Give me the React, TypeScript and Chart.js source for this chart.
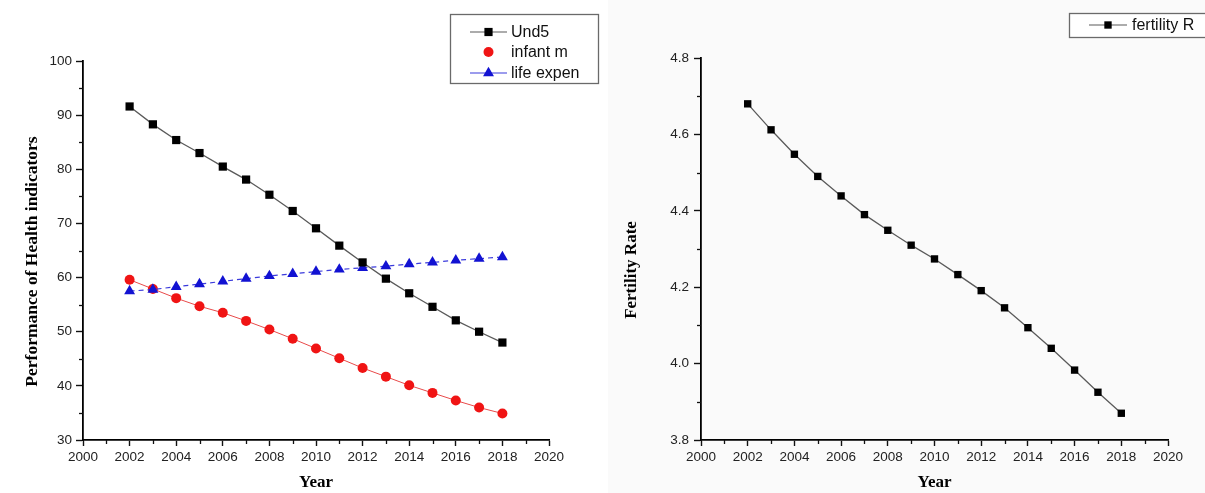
import React, { useEffect, useRef } from 'react';
import { Chart, registerables } from 'chart.js';

Chart.register(...registerables);

// ---------- data ----------
const years = [2002, 2003, 2004, 2005, 2006, 2007, 2008, 2009, 2010, 2011, 2012, 2013, 2014, 2015, 2016, 2017, 2018];
const und5 = [91.6, 88.3, 85.4, 83.0, 80.5, 78.1, 75.3, 72.3, 69.1, 65.9, 62.8, 59.8, 57.1, 54.6, 52.1, 50.0, 48.0];
const infantM = [59.6, 57.9, 56.2, 54.7, 53.5, 52.0, 50.4, 48.7, 46.9, 45.1, 43.3, 41.7, 40.1, 38.7, 37.3, 36.0, 34.9];
const lifeExpen = [57.5, 57.8, 58.3, 58.8, 59.3, 59.8, 60.3, 60.7, 61.1, 61.5, 61.8, 62.1, 62.5, 62.8, 63.2, 63.5, 63.8];
const fertilityR = [4.68, 4.612, 4.548, 4.49, 4.439, 4.39, 4.349, 4.31, 4.274, 4.233, 4.191, 4.146, 4.094, 4.04, 3.983, 3.925, 3.87];

const leftSeriesNames = ['Und5', 'infant m', 'life expen'];
const rightSeriesNames = ['fertility R'];
const leftYTitle = 'Performance of Health indicators';
const rightYTitle = 'Fertility Rate';
const xTitle = 'Year';

const xMin = 2000, xMax = 2020, xStep = 2;
const leftYMin = 30, leftYMax = 100, leftYStep = 10;
const rightYMin = 3.8, rightYMax = 4.8, rightYStep = 0.2;
const minorX = [2001, 2003, 2005, 2007, 2009, 2011, 2013, 2015, 2017, 2019];
const leftMinorY = [35, 45, 55, 65, 75, 85, 95];
const rightMinorY = [3.9, 4.1, 4.3, 4.5, 4.7];

const pts = (vals: number[]) => years.map((x, i) => ({ x, y: vals[i] }));

const SERIF = '"Liberation Serif", "Times New Roman", serif';
const SANS = '"Liberation Sans", Arial, sans-serif';

// ---------- helpers ----------
function drawMarker(ctx: CanvasRenderingContext2D, style: string, x: number, y: number, r: number, color: string) {
  ctx.save();
  ctx.fillStyle = color;
  ctx.beginPath();
  if (style === 'rect') {
    const s = Math.SQRT1_2 * r;
    ctx.rect(x - s, y - s, 2 * s, 2 * s);
  } else if (style === 'triangle') {
    ctx.moveTo(x, y - r);
    ctx.lineTo(x + r * 0.866, y + r * 0.5);
    ctx.lineTo(x - r * 0.866, y + r * 0.5);
    ctx.closePath();
  } else {
    ctx.arc(x, y, r, 0, Math.PI * 2);
  }
  ctx.fill();
  ctx.restore();
}

const minorTicksPlugin = {
  id: 'minorTicks',
  afterDraw(chart: any, _args: any, opts: any) {
    const ctx = chart.ctx as CanvasRenderingContext2D;
    const xs = chart.scales.x, ys = chart.scales.y;
    ctx.save();
    ctx.strokeStyle = '#111';
    ctx.lineWidth = 1.3;
    for (const v of opts.x || []) {
      const px = Math.round(xs.getPixelForValue(v)) + 0.5;
      ctx.beginPath();
      ctx.moveTo(px, xs.top);
      ctx.lineTo(px, xs.top + opts.len);
      ctx.stroke();
    }
    for (const v of opts.y || []) {
      const py = Math.round(ys.getPixelForValue(v)) + 0.5;
      ctx.beginPath();
      ctx.moveTo(ys.right, py);
      ctx.lineTo(ys.right - opts.len, py);
      ctx.stroke();
    }
    ctx.restore();
  },
};

// vertical axis title, drawn relative to the y scale
const yTitlePlugin = {
  id: 'yTitle',
  afterDraw(chart: any, _args: any, opts: any) {
    const ctx = chart.ctx as CanvasRenderingContext2D;
    const ys = chart.scales.y;
    const cy = (ys.top + ys.bottom) / 2 + opts.dy;
    ctx.save();
    ctx.translate(opts.x, cy);
    ctx.rotate(-Math.PI / 2);
    ctx.font = `bold ${opts.size}px ${SERIF}`;
    ctx.fillStyle = '#000';
    ctx.textAlign = 'center';
    ctx.textBaseline = 'middle';
    ctx.fillText(opts.text, 0, 0);
    ctx.restore();
  },
};

const originLegendPlugin = {
  id: 'originLegend',
  afterDraw(chart: any, _args: any, opts: any) {
    const ctx = chart.ctx as CanvasRenderingContext2D;
    const b = opts.box;
    ctx.save();
    ctx.fillStyle = '#ffffff';
    ctx.fillRect(b.x, b.y, b.w, b.h);
    ctx.strokeStyle = '#6a6a6a';
    ctx.lineWidth = 1.3;
    ctx.strokeRect(b.x + 0.5, b.y + 0.5, b.w, b.h);
    ctx.font = opts.font;
    ctx.textBaseline = 'middle';
    ctx.textAlign = 'left';
    chart.data.datasets.forEach((ds: any, i: number) => {
      const y = opts.rows[i];
      if (opts.showLine[i]) {
        ctx.save();
        ctx.strokeStyle = ds.borderColor;
        ctx.lineWidth = 1.2;
        ctx.beginPath();
        ctx.moveTo(opts.lineX0, y);
        ctx.lineTo(opts.lineX1, y);
        ctx.stroke();
        ctx.restore();
      }
      drawMarker(ctx, ds.pointStyle, (opts.lineX0 + opts.lineX1) / 2, y, ds.pointRadius, ds.pointBackgroundColor);
      ctx.fillStyle = '#111';
      ctx.fillText(ds.label, opts.textX, y + 1);
    });
    ctx.restore();
  },
};

function axisOptions(kind: 'x' | 'y', cfg: any) {
  return {
    type: 'linear',
    min: cfg.min,
    max: cfg.max,
    border: { display: true, color: '#000', width: 1.8 },
    grid: { drawOnChartArea: false, drawTicks: true, tickLength: cfg.tickLen, tickColor: '#111', tickWidth: 1.4 },
    ticks: {
      stepSize: cfg.step,
      padding: cfg.pad,
      color: '#222',
      font: { family: SANS, size: 13.5 },
      maxRotation: 0,
      autoSkip: false,
      callback: cfg.fmt,
    },
    title: {
      display: kind === 'x',
      text: cfg.title,
      color: '#000',
      font: { family: SERIF, size: cfg.titleSize, weight: 'bold' },
      padding: { top: 0, bottom: 0 },
    },
    afterFit: (scale: any) => {
      if (kind === 'x') scale.height = cfg.fit;
      else scale.width = cfg.fit;
    },
  };
}

const fmtYear = (v: any) => String(v);

function LeftChart() {
  const ref = useRef<HTMLCanvasElement>(null);
  useEffect(() => {
    const chart = new Chart(ref.current as HTMLCanvasElement, {
      type: 'line',
      data: {
        datasets: [
          {
            label: leftSeriesNames[0],
            data: pts(und5),
            borderColor: '#5a5a5a',
            borderWidth: 1.3,
            pointStyle: 'rect',
            pointRadius: 5.8,
            pointBackgroundColor: '#000',
            pointBorderColor: '#000',
            pointBorderWidth: 0,
            order: 0,
          },
          {
            label: leftSeriesNames[1],
            data: pts(infantM),
            borderColor: '#e84a4a',
            borderWidth: 1,
            pointStyle: 'circle',
            pointRadius: 5,
            pointBackgroundColor: '#f01414',
            pointBorderColor: '#f01414',
            pointBorderWidth: 0,
            order: 2,
          },
          {
            label: leftSeriesNames[2],
            data: pts(lifeExpen),
            borderColor: '#3b3bdc',
            borderWidth: 1.2,
            borderDash: [5, 4],
            pointStyle: 'triangle',
            pointRadius: 6.3,
            pointBackgroundColor: '#1212d2',
            pointBorderColor: '#1212d2',
            pointBorderWidth: 0,
            order: 1,
          },
        ],
      } as any,
      options: {
        animation: false,
        responsive: false,
        devicePixelRatio: 1,
        layout: { padding: { left: 0, right: 56, top: 61, bottom: 0 } },
        plugins: {
          legend: { display: false },
          tooltip: { enabled: false },
          minorTicks: { x: minorX, y: leftMinorY, len: 4 },
          yTitle: { text: leftYTitle, size: 17.5, x: 32, dy: 11 },
          originLegend: {
            box: { x: 450, y: 14, w: 148, h: 69 },
            rows: [32, 52, 73],
            showLine: [true, false, true],
            lineX0: 470,
            lineX1: 507,
            textX: 511,
            font: `16px ${SANS}`,
          },
        } as any,
        scales: {
          x: axisOptions('x', { min: xMin, max: xMax, step: xStep, tickLen: 6, pad: 3, fmt: fmtYear, title: xTitle, titleSize: 17, fit: 53 }),
          y: axisOptions('y', { min: leftYMin, max: leftYMax, step: leftYStep, tickLen: 7, pad: 4, fmt: (v: any) => String(v), title: leftYTitle, titleSize: 17, fit: 83 }),
        } as any,
      },
      plugins: [minorTicksPlugin, yTitlePlugin, originLegendPlugin],
    });
    return () => chart.destroy();
  }, []);
  return <canvas ref={ref} width={605} height={493} style={{ position: 'absolute', left: 0, top: 0, display: 'block' }} />;
}

function RightChart() {
  const ref = useRef<HTMLCanvasElement>(null);
  useEffect(() => {
    const chart = new Chart(ref.current as HTMLCanvasElement, {
      type: 'line',
      data: {
        datasets: [
          {
            label: rightSeriesNames[0],
            data: pts(fertilityR),
            borderColor: '#5a5a5a',
            borderWidth: 1.3,
            pointStyle: 'rect',
            pointRadius: 5.2,
            pointBackgroundColor: '#000',
            pointBorderColor: '#000',
            pointBorderWidth: 0,
          },
        ],
      } as any,
      options: {
        animation: false,
        responsive: false,
        devicePixelRatio: 1,
        layout: { padding: { left: 0, right: 37, top: 58, bottom: 0 } },
        plugins: {
          legend: { display: false },
          tooltip: { enabled: false },
          minorTicks: { x: minorX, y: rightMinorY, len: 4 },
          yTitle: { text: rightYTitle, size: 17, x: 27, dy: 21 },
          originLegend: {
            box: { x: 464, y: 13, w: 150, h: 24 },
            rows: [25],
            showLine: [true],
            lineX0: 484,
            lineX1: 522,
            textX: 527,
            font: `16px ${SANS}`,
          },
        } as any,
        scales: {
          x: axisOptions('x', { min: xMin, max: xMax, step: xStep, tickLen: 6, pad: 3, fmt: fmtYear, title: xTitle, titleSize: 17, fit: 53 }),
          y: axisOptions('y', { min: rightYMin, max: rightYMax, step: rightYStep, tickLen: 7, pad: 5, fmt: (v: any) => Number(v).toFixed(1), title: rightYTitle, titleSize: 17, fit: 96 }),
        } as any,
      },
      plugins: [minorTicksPlugin, yTitlePlugin, originLegendPlugin],
    });
    return () => chart.destroy();
  }, []);
  return <canvas ref={ref} width={600} height={493} style={{ position: 'absolute', left: 605, top: 0, display: 'block' }} />;
}

export default function App() {
  return (
    <div style={{ position: 'absolute', left: 0, top: 0, width: 1205, height: 493, background: '#ffffff', overflow: 'hidden' }}>
      <div style={{ position: 'absolute', left: 608, top: 0, width: 597, height: 493, background: '#fafafa' }} />
      <LeftChart />
      <RightChart />
    </div>
  );
}
